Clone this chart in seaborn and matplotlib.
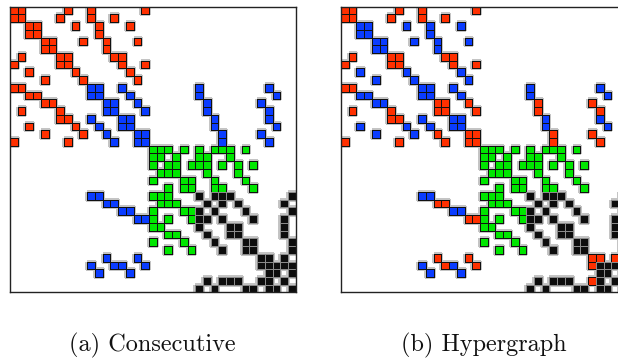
import numpy as np
import pandas as pd
import matplotlib
matplotlib.use("Agg")
import matplotlib.pyplot as plt
from matplotlib.colors import ListedColormap, to_rgba
import seaborn as sns

# Sparsity pattern: non-zero column indices of each row (37 x 37 symmetric matrix)
nz_cols = [
    [0, 1, 7, 10, 17],
    [0, 1, 6, 10, 13],
    [2, 3, 8, 11, 15],
    [2, 3, 11],
    [4, 5, 9, 12, 16],
    [4, 5, 12],
    [1, 6, 7, 13, 14],
    [0, 6, 7, 14, 17],
    [2, 8, 15],
    [4, 9, 16],
    [0, 1, 10, 11, 14, 24, 33],
    [2, 3, 10, 11, 15, 24, 34],
    [4, 5, 12, 13, 16, 25, 32],
    [1, 6, 12, 13, 17, 25, 33],
    [6, 7, 10, 14, 15, 26, 33],
    [2, 8, 11, 14, 15, 26, 34],
    [4, 9, 12, 16, 17, 27, 32],
    [0, 7, 13, 16, 17, 27, 33],
    [18, 19, 20, 22, 24, 26, 27, 28, 30],
    [18, 19, 21, 24, 25, 28],
    [18, 20, 21, 23, 24, 25, 27, 29, 31],
    [19, 20, 21, 25, 29],
    [18, 22, 23, 26, 30],
    [20, 22, 23, 26, 27, 31],
    [10, 11, 18, 19, 20, 24, 26, 27, 28, 36],
    [12, 13, 19, 20, 21, 25, 27, 29, 35],
    [14, 15, 18, 22, 23, 24, 26, 30, 36],
    [16, 17, 18, 20, 23, 24, 25, 27, 31, 35],
    [18, 19, 24, 28, 29, 35],
    [20, 21, 25, 28, 29, 35],
    [18, 22, 26, 30, 31, 36],
    [20, 23, 27, 30, 31, 36],
    [12, 16, 32, 33, 35],
    [10, 13, 14, 17, 32, 33, 34, 35, 36],
    [11, 15, 33, 34, 36],
    [25, 27, 28, 29, 32, 33, 35],
    [24, 26, 30, 31, 33, 34, 36],
]

# Part (colour) assigned to each row/column index: 0 red, 1 blue, 2 green, 3 black
part_consecutive = [0] * 10 + [1] * 8 + [2] * 6 + [3] * 13
part_hypergraph = ([0, 0, 1, 1, 1, 1, 0, 0, 1, 1, 1, 1, 0, 0, 1, 1, 0, 0]
                   + [2] * 6 + [3] * 8 + [0] + [3] * 4)

part_colors = ["#FF3000", "#0A3CFF", "#00E600", "#0D0D0D"]
captions = ["(a) Consecutive", "(b) Hypergraph"]

n = len(nz_cols)


def build(parts):
    m = np.full((n, n), np.nan)
    for i, cols in enumerate(nz_cols):
        for j in cols:
            m[i, j] = parts[min(i, j)]
    return pd.DataFrame(m)


def set_cell_edges(ax, df, color, black_color):
    mesh = ax.collections[-1]
    vals = df.to_numpy().ravel()
    ec = np.tile(np.array(to_rgba(color)), (vals.size, 1))
    ec[vals == 3] = to_rgba(black_color)
    ec[np.isnan(vals), 3] = 0.0
    mesh.set_edgecolors(ec)


sns.set_theme(style="white")
cmap = ListedColormap(part_colors)

W, H = 618, 358
fig = plt.figure(figsize=(W / 100, H / 100), dpi=100)
size_px = 285.7
bottom = (H - 292.4) / H
lefts = [10, 341]

for k, parts in enumerate([part_consecutive, part_hypergraph]):
    ax = fig.add_axes([lefts[k] / W, bottom, size_px / W, size_px / H])
    df = build(parts)
    mask = df.isna()
    # soft grey halo underneath
    sns.heatmap(df, mask=mask, cmap=cmap, vmin=-0.5, vmax=3.5, cbar=False,
                linewidths=1.7, linecolor="#c4c4c4", xticklabels=False,
                yticklabels=False, ax=ax)
    set_cell_edges(ax, df, "#c4c4c4", "#c4c4c4")
    sns.heatmap(df, mask=mask, cmap=cmap, vmin=-0.5, vmax=3.5, cbar=False,
                linewidths=0.6, linecolor="#111111", xticklabels=False,
                yticklabels=False, ax=ax)
    set_cell_edges(ax, df, "#111111", "#8a8a8a")
    ax.set_xlabel("")
    ax.set_ylabel("")
    for s in ax.spines.values():
        s.set_visible(True)
        s.set_color("#222222")
        s.set_linewidth(1.0)
    fig.text((152.5 + 331 * k) / W, 1 - 351 / H, captions[k], ha="center",
             va="baseline", fontsize=17.5, family="cmr10", color="#111111")

fig.savefig("out.png", dpi=100)
